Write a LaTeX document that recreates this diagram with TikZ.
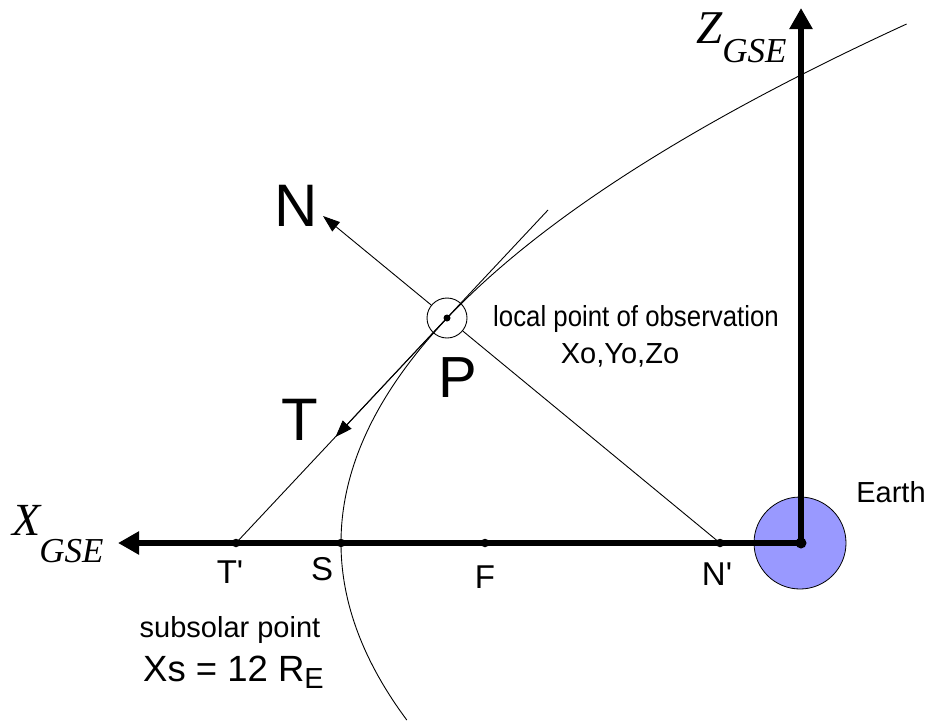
\documentclass[tikz,border=0pt]{standalone}
\usepackage{fontspec}
\setmainfont{Liberation Sans}[Ligatures=TeXOff]
\newfontfamily\axisfont{Liberation Serif}
\usetikzlibrary{arrows.meta}
\definecolor{earthblue}{HTML}{9999FF}
\begin{document}
\begin{tikzpicture}[x=1pt,y=-1pt,
  thinline/.style={line width=0.9pt},
  axisline/.style={line width=5.5pt, line join=miter,
    {Triangle[length=21pt,width=22pt]}-{Triangle[length=21pt,width=22pt]}},
  dotnode/.style={circle, fill=black, inner sep=0pt, minimum size=8.5pt},
  lbl/.style={font=\fontsize{33}{33}\selectfont, anchor=base, inner sep=0pt},
  biglbl/.style={font=\fontsize{60}{60}\selectfont, anchor=base, inner sep=0pt},
  txt/.style={font=\fontsize{29}{29}\selectfont, anchor=base, inner sep=0pt},
  thinarrow/.style={line width=0.9pt, -{Triangle[length=17pt,width=12pt]}},
  axlbl/.style={anchor=base west, inner sep=0pt}]
\useasboundingbox (0,0) rectangle (925,721);

% Earth and axes
\node[circle, draw=black, fill=earthblue, line width=0.8pt, minimum size=92pt, inner sep=0pt] (earth) at (800,543) {};
\coordinate (xtip) at (118,543);
\coordinate (ztip) at (801,8);
\coordinate (origin) at (801,543);
\draw[axisline] (xtip) -- (origin) -- (ztip);
\node[dotnode, minimum size=11pt] (ec) at (origin) {};

% magnetopause (parabola)
\coordinate (mpA) at (906.6,24);
\coordinate (mpB) at (406.8,720);
\draw[thinline] (mpA) .. controls (400.9,256) and (234.3,488) .. (mpB);

% points on the X axis
\node[dotnode] (Tp) at (236,543) {};
\node[dotnode] (S) at (341,543) {};
\node[dotnode] (F) at (485,543) {};
\node[dotnode] (Np) at (720,543) {};

% point P
\coordinate (P) at (447,318);
\node[circle, draw=black, line width=0.9pt, minimum size=40pt, inner sep=0pt] (Pc) at (P) {};
\node[dotnode, minimum size=7pt] (Pd) at (P) {};

% tangent line and normal line
\coordinate (tanend) at (548,210);
\draw[thinline] (Tp.center) -- (tanend);
\draw[thinline] (Pc) -- (Np.center);
\coordinate (Ntip) at (323,216);
\draw[thinarrow] (Pc) -- (Ntip);
\coordinate (Ttip) at (335.5,437);
\draw[thinarrow] (P) -- (Ttip);

% labels
\node[biglbl] (Nl) at (296,226) {N};
\node[biglbl] (Tl) at (300,440) {T};
\node[biglbl, font=\fontsize{58}{58}\selectfont] (Pl) at (458,397) {P};
\node[lbl] (Tpl) at (230,583) {T'};
\node[lbl] (Sl) at (322,580) {S};
\node[lbl] (Fl) at (485,588) {F};
\node[lbl] (Npl) at (717,585) {N'};
\node[txt] (earthl) at (891,502) {Earth};
\node[txt] (loc1) at (636,326) {\scalebox{0.89}[1]{local point of observation}};
\node[txt] (loc2) at (620,363) {Xo,Yo,Zo};
\node[txt] (sub1) at (230,637) {subsolar point};
\node[axlbl, font=\fontsize{36.5}{36.5}\selectfont] (xs) at (143,681) {Xs = 12 R\raisebox{-7pt}{\fontsize{29}{29}\selectfont E}};

% axis labels
\node[axlbl, font=\axisfont\itshape\fontsize{46}{46}\selectfont] (xgse) at (12,535) {X\hspace{-1pt}\raisebox{-27pt}{\fontsize{35}{35}\selectfont GSE}};
\node[axlbl, font=\axisfont\itshape\fontsize{47}{47}\selectfont] (zgse) at (696,43) {Z\raisebox{-19pt}{\fontsize{35}{35}\selectfont GSE}};
\end{tikzpicture}
\end{document}
